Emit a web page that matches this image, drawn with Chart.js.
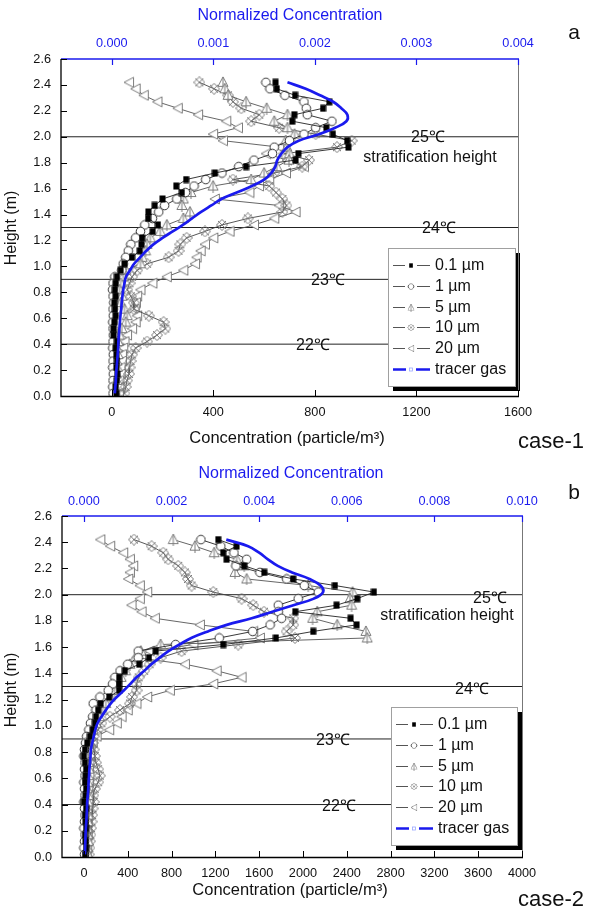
<!DOCTYPE html>
<html><head><meta charset="utf-8">
<script src="https://cdn.jsdelivr.net/npm/chart.js@4.4.0/dist/chart.umd.min.js"></script>
<style>
html,body{margin:0;padding:0;background:#fff;}
#wrap{position:relative;width:590px;height:912px;overflow:hidden;}
canvas{position:absolute;left:0;}
</style></head><body>
<div id="wrap">
<canvas id="ca" width="590" height="456" style="top:0"></canvas>
<canvas id="cb" width="590" height="456" style="top:456px"></canvas>
</div>
<script>
// ---------- data ----------
const HEIGHTS = [2.42,2.37,2.32,2.27,2.22,2.17,2.12,2.07,2.02,1.97,
  1.92,1.87,1.82,1.77,1.72,1.67,1.62,1.57,1.52,1.47,
  1.42,1.37,1.32,1.27,1.22,1.17,1.12,1.07,1.02,0.97,
  0.92,0.87,0.82,0.77,0.72,0.67,0.62,0.57,0.52,0.47,
  0.42,0.37,0.32,0.27,0.22,0.17,0.12,0.07,0.02];

const SERIES_LABELS = ['0.1 µm','1 µm','5 µm','10 µm','20 µm','tracer gas'];
const REF_HEIGHTS = [0.4, 0.9, 1.3, 2.0];
const Y_TICKS = [0,0.2,0.4,0.6,0.8,1.0,1.2,1.4,1.6,1.8,2.0,2.2,2.4,2.6];

// case-1 (panel a), particle/m3
const A_P01 = [645,650,722,857,832,719,711,845,871,927,
  932,735,724,529,406,293,254,276,200,169,
  144,143,182,161,120,117,110,80,50,35,
  20,15,12,15,10,12,15,10,7,7,
  20,15,18,20,18,22,20,15,18];
const A_P1 = [607,623,682,757,766,770,867,803,757,700,
  640,633,560,500,434,370,324,290,256,208,
  185,160,130,113,94,75,65,55,45,40,
  12,5,3,5,8,5,6,4,5,6,
  5,4,6,5,4,6,5,4,5];
const A_P5 = [438,445,458,529,610,692,640,692,720,685,
  690,700,698,650,600,549,399,312,282,276,
  308,282,217,191,152,139,133,120,113,55,
  45,35,30,40,35,50,61,55,40,30,
  25,20,25,20,22,18,20,15,15];
const A_P10 = [345,403,458,477,510,581,549,659,803,945,
  887,680,777,750,640,477,620,647,672,688,
  672,536,434,367,295,270,263,224,139,100,
  80,70,61,75,87,87,146,204,211,178,
  139,94,80,74,70,68,60,55,50];
const A_P20 = [68,94,126,180,260,340,451,497,399,438,
  659,608,690,757,686,620,580,542,406,659,
  724,640,560,464,400,367,350,334,328,282,
  217,160,113,100,95,90,100,94,80,60,
  50,45,40,40,35,35,30,30,28];
// normalized concentration of tracer gas (top axis)
const A_TRACER = [0.00173,0.00191,0.00205,0.00218,0.00226,0.00232,0.00231,0.00220,0.00204,0.00184,
  0.00173,0.00167,0.00163,0.00161,0.00157,0.00150,0.00138,0.00123,0.00108,0.00098,
  0.00088,0.00079,0.00070,0.00060,0.00050,0.00041,0.00034,0.00028,0.00022,0.00018,
  0.00014,0.000125,0.000113,0.000105,0.000098,0.000093,0.000085,0.00008,0.000075,0.00007,
  0.000065,0.000063,0.000058,0.000053,0.000048,0.000043,0.00004,0.000035,0.00003];
const A_XTICKS = [0,400,800,1200,1600];
const A_X2TICKS = [0,0.001,0.002,0.003,0.004];

// case-2 (panel b)
const B_P01 = [1227,1394,1272,1303,1464,1647,1911,2292,2648,2496,
  2307,1930,2435,2490,2094,1753,1272,655,594,505,
  374,322,322,322,231,152,130,110,100,80,
  55,30,10,0,10,20,15,10,20,15,
  0,20,10,15,20,10,15,20,10];
const B_P1 = [1068,1250,1370,1486,1388,1607,1851,2012,2140,1957,
  1775,1775,1805,1700,1541,1236,837,496,496,400,
  330,283,262,222,146,85,110,80,60,45,
  25,15,5,0,10,5,10,0,5,10,
  0,5,10,5,0,10,5,0,5];
const B_P5 = [816,1014,1190,1394,1464,1379,1486,2048,2453,2429,
  2444,2130,2088,2313,2575,2587,700,520,470,420,
  380,340,300,280,240,200,170,140,110,80,
  60,40,30,35,40,45,40,35,30,40,
  35,30,40,35,30,35,40,30,35];
const B_P10 = [457,618,724,770,861,922,950,983,1181,1440,
  1546,1644,1911,1911,1850,1927,1409,892,700,600,
  550,500,480,481,440,420,329,237,160,130,
  90,80,90,100,110,130,146,130,100,85,
  90,80,75,70,65,60,55,50,45];
const B_P20 = [150,240,359,420,450,420,405,511,578,511,
  435,527,648,1059,1546,1607,1000,600,480,922,
  1212,1440,1181,785,578,480,400,344,300,231,
  116,80,60,55,50,45,50,45,40,45,
  40,35,40,35,30,35,30,30,25];
const B_TRACER = [0.00325,0.00375,0.0040,0.0042,0.004425,0.00475,0.00515,0.0054,0.00546,0.00525,
  0.00478,0.0043,0.00383,0.00326,0.00283,0.00245,0.00218,0.00193,0.00173,0.00154,
  0.00138,0.0012,0.00106,0.00091,0.00075,0.00061,0.0005,0.0004,0.00031,0.00026,
  0.000225,0.00019,0.00016,0.00015,0.00014,0.000125,0.000118,0.000108,0.0001,0.000088,
  0.000075,0.00007,0.000063,0.000055,0.000045,0.000038,0.000033,0.000028,0.000023];
const B_XTICKS = [0,400,800,1200,1600,2000,2400,2800,3200,3600,4000];
const B_X2TICKS = [0,0.002,0.004,0.006,0.008,0.010];

// ---------- styling ----------
const F = "'Liberation Sans', Arial, sans-serif";
const BLUE = '#1a1aee';
const W = 590, H = 456;

function mk(w,h,draw){const c=document.createElement('canvas');c.width=w;c.height=h;draw(c.getContext('2d'));return c;}
const M_SQ = mk(7,8,g=>{g.fillStyle='#000';g.fillRect(0.5,0.5,6,7);});
const M_CI = mk(11,11,g=>{g.fillStyle='#fff';g.strokeStyle='#333';g.lineWidth=1;g.beginPath();g.arc(5.5,5.5,4.3,0,Math.PI*2);g.fill();g.stroke();});
const M_T5 = mk(12,13,g=>{g.fillStyle='#fff';g.strokeStyle='#7d7d7d';g.lineWidth=1;g.beginPath();g.moveTo(6,1);g.lineTo(11,10.5);g.lineTo(1,10.5);g.closePath();g.fill();g.stroke();g.beginPath();g.moveTo(6,1);g.lineTo(6,13);g.stroke();});
const M_X10 = mk(12,12,g=>{g.strokeStyle='#7a7a7a';g.lineWidth=1;g.beginPath();g.moveTo(2,2);g.lineTo(10,10);g.moveTo(10,2);g.lineTo(2,10);g.moveTo(6,0.5);g.lineTo(11.5,6);g.lineTo(6,11.5);g.lineTo(0.5,6);g.closePath();g.stroke();});
const M_T20 = mk(12,12,g=>{g.fillStyle='#fff';g.strokeStyle='#7d7d7d';g.lineWidth=1;g.beginPath();g.moveTo(1,6);g.lineTo(10.5,1);g.lineTo(10.5,11);g.closePath();g.fill();g.stroke();});
const MARKERS = [M_SQ,M_CI,M_T5,M_X10,M_T20];
const LINE_COLORS = ['#222','#222','#555','#444','#555'];

function pts(vals){return vals.map((v,i)=>({x:v,y:HEIGHTS[i]}));}

function makeDeco(cfg){
  return {
    id:'deco'+cfg.id,
    afterDatasetsDraw(chart){
      const ctx = chart.ctx, a = chart.chartArea;
      const sx = chart.scales.x, sx2 = chart.scales.x2, sy = chart.scales.y;
      ctx.save();
      // temperature labels
      ctx.fillStyle='#111'; ctx.textAlign='center'; ctx.textBaseline='middle';
      ctx.font = '16px '+F;
      cfg.labels.forEach(l=>{ctx.fillText(l.t, l.x, sy.getPixelForValue(l.h)+l.dy);});
      // legend
      const L = cfg.legend;
      ctx.fillStyle='#000'; ctx.fillRect(L.x+5, L.y+5, L.w, L.h);
      ctx.fillStyle='#fff'; ctx.fillRect(L.x, L.y, L.w, L.h);
      ctx.strokeStyle='#a0a0a0'; ctx.lineWidth=1; ctx.strokeRect(L.x+0.5, L.y+0.5, L.w, L.h);
      SERIES_LABELS.forEach((lab,i)=>{
        const y = Math.round(L.y + 17 + i*20.8) + 0.5;
        if (i < 5) {
          ctx.strokeStyle='#555'; ctx.lineWidth=1.2;
          ctx.beginPath(); ctx.moveTo(L.x+5,y); ctx.lineTo(L.x+17,y); ctx.moveTo(L.x+29,y); ctx.lineTo(L.x+42,y); ctx.stroke();
          const m = MARKERS[i];
          ctx.drawImage(m, L.x+23-m.width*0.32, y-m.height*0.32, m.width*0.64, m.height*0.64);
        } else {
          ctx.strokeStyle=BLUE; ctx.lineWidth=2.6;
          ctx.beginPath(); ctx.moveTo(L.x+5,y); ctx.lineTo(L.x+18,y); ctx.moveTo(L.x+28,y); ctx.lineTo(L.x+42,y); ctx.stroke();
          ctx.strokeStyle='#9aa8ff'; ctx.lineWidth=0.8; ctx.strokeRect(L.x+21.5,y-1.5,3,3);
        }
        ctx.fillStyle='#111'; ctx.textAlign='left'; ctx.textBaseline='middle';
        ctx.font='16px '+F;
        ctx.fillText(lab, L.x+47, y);
      });
      // frame
      ctx.lineWidth=1;
      ctx.strokeStyle='#777';
      ctx.beginPath(); ctx.moveTo(Math.round(a.right)+0.5,a.top); ctx.lineTo(Math.round(a.right)+0.5,a.bottom); ctx.stroke();
      ctx.strokeStyle='#000'; ctx.lineWidth=1.3;
      ctx.beginPath(); ctx.moveTo(a.left,a.top); ctx.lineTo(a.left,a.bottom+0.5); ctx.lineTo(a.right+1,a.bottom+0.5); ctx.stroke();
      ctx.strokeStyle=BLUE; ctx.lineWidth=1.5;
      ctx.beginPath(); ctx.moveTo(a.left,a.top); ctx.lineTo(a.right+1,a.top); ctx.stroke();
      // ticks (inward)
      ctx.lineWidth=1; ctx.strokeStyle='#000';
      ctx.beginPath();
      Y_TICKS.forEach(v=>{const p=Math.round(sy.getPixelForValue(v))+0.5; ctx.moveTo(a.left,p); ctx.lineTo(a.left+6,p);});
      cfg.xticks.forEach(v=>{const p=Math.round(sx.getPixelForValue(v))+0.5; ctx.moveTo(p,a.bottom); ctx.lineTo(p,a.bottom-6);});
      ctx.stroke();
      ctx.strokeStyle=BLUE; ctx.lineWidth=1.2;
      ctx.beginPath();
      cfg.x2ticks.forEach(v=>{const p=Math.round(sx2.getPixelForValue(v))+0.5; ctx.moveTo(p,a.top); ctx.lineTo(p,a.top+6);});
      ctx.stroke();
      // titles
      ctx.textAlign='center'; ctx.textBaseline='middle';
      ctx.fillStyle=BLUE; ctx.font='16px '+F;
      ctx.fillText('Normalized Concentration', cfg.title[0], cfg.title[1]);
      ctx.fillStyle='#111'; ctx.font='16.5px '+F;
      ctx.fillText('Concentration (particle/m³)', cfg.xlab[0], cfg.xlab[1]);
      ctx.font='22px '+F;
      ctx.fillText(cfg.caseText, cfg.caseXY[0], cfg.caseXY[1]);
      ctx.font='21px '+F;
      ctx.fillText(cfg.letter, cfg.letterXY[0], cfg.letterXY[1]);
      ctx.save(); ctx.translate(cfg.ylab[0], cfg.ylab[1]); ctx.rotate(-Math.PI/2);
      ctx.font='16px '+F; ctx.fillText('Height (m)',0,0); ctx.restore();
      ctx.restore();
    }
  };
}

function build(canvasId, cfg, series, tracer){
  const datasets = [];
  datasets.push({data:pts(tracer), xAxisID:'x2', showLine:true, borderColor:BLUE, borderWidth:2.7, pointRadius:0, tension:0.4, fill:false});
  series.forEach((s,i)=>{
    datasets.push({data:pts(s), xAxisID:'x', showLine:true, borderColor:LINE_COLORS[i], borderWidth:0.9,
      pointStyle:MARKERS[i], pointRadius:4, tension:0, fill:false});
  });
  REF_HEIGHTS.forEach(h=>{
    datasets.push({data:[{x:cfg.xmin,y:h},{x:cfg.xmax,y:h}], xAxisID:'x', showLine:true, borderColor:'#222', borderWidth:1, pointRadius:0, fill:false});
  });
  const tickFont = {family:F, size:12.7};
  return new Chart(document.getElementById(canvasId), {
    type:'scatter',
    data:{datasets},
    options:{
      responsive:false, animation:false, events:[],
      layout:{padding:{left:0,right:W-cfg.right,top:0,bottom:0}},
      plugins:{legend:{display:false}, tooltip:{enabled:false}},
      scales:{
        x:{type:'linear', position:'bottom', min:cfg.xmin, max:cfg.xmax, bounds:'data',
          afterBuildTicks:s=>{s.ticks=cfg.xticks.map(v=>({value:v}));},
          afterFit:s=>{s.height=H-cfg.bottom;},
          grid:{display:false, drawTicks:false}, border:{display:false},
          ticks:{padding:9, color:'#111', font:tickFont, maxRotation:0, autoSkip:false, callback:v=>String(v)}},
        x2:{type:'linear', position:'top', min:cfg.xmin/400000, max:cfg.xmax/400000, bounds:'data',
          afterBuildTicks:s=>{s.ticks=cfg.x2ticks.map(v=>({value:v}));},
          afterFit:s=>{s.height=cfg.top;},
          grid:{display:false, drawTicks:false}, border:{display:false},
          ticks:{padding:cfg.x2pad, color:BLUE, font:tickFont, maxRotation:0, autoSkip:false, callback:v=>Number(v).toFixed(3)}},
        y:{type:'linear', position:'left', min:0, max:2.6, bounds:'data',
          afterBuildTicks:s=>{s.ticks=Y_TICKS.map(v=>({value:v}));},
          afterFit:s=>{s.width=cfg.left;},
          grid:{display:false, drawTicks:false}, border:{display:false},
          ticks:{padding:10, color:'#111', font:tickFont, autoSkip:false, callback:v=>Number(v).toFixed(1)}}
      }
    },
    plugins:[makeDeco(cfg)]
  });
}

const CFG_A = {id:'a', left:61, right:518, top:59, bottom:396, xmin:-200, xmax:1600, x2pad:8,
  xticks:A_XTICKS, x2ticks:A_X2TICKS,
  title:[290,16], xlab:[287,438], caseText:'case-1', caseXY:[551,442], letter:'a', letterXY:[574,33], ylab:[12,228],
  labels:[{t:'25℃',x:428,h:2.0,dy:1},{t:'stratification height',x:430,h:2.0,dy:21},{t:'24℃',x:439,h:1.3,dy:1.5},{t:'23℃',x:328,h:0.9,dy:1},{t:'22℃',x:313,h:0.4,dy:1.5}],
  legend:{x:388,y:248,w:127,h:138}};
const CFG_B = {id:'b', left:62, right:522, top:60, bottom:401, xmin:-200, xmax:4000, x2pad:7,
  xticks:B_XTICKS, x2ticks:B_X2TICKS,
  title:[291,18], xlab:[290,434], caseText:'case-2', caseXY:[551,444], letter:'b', letterXY:[574,37], ylab:[12,234],
  labels:[{t:'25℃',x:490,h:2.0,dy:3.5},{t:'stratification height',x:447,h:2.0,dy:20.5},{t:'24℃',x:472,h:1.3,dy:3.5},{t:'23℃',x:333,h:0.9,dy:2},{t:'22℃',x:339,h:0.4,dy:2.5}],
  legend:{x:391,y:251,w:126,h:138}};

build('ca', CFG_A, [A_P01,A_P1,A_P5,A_P10,A_P20], A_TRACER);
build('cb', CFG_B, [B_P01,B_P1,B_P5,B_P10,B_P20], B_TRACER);
</script>
</body></html>
